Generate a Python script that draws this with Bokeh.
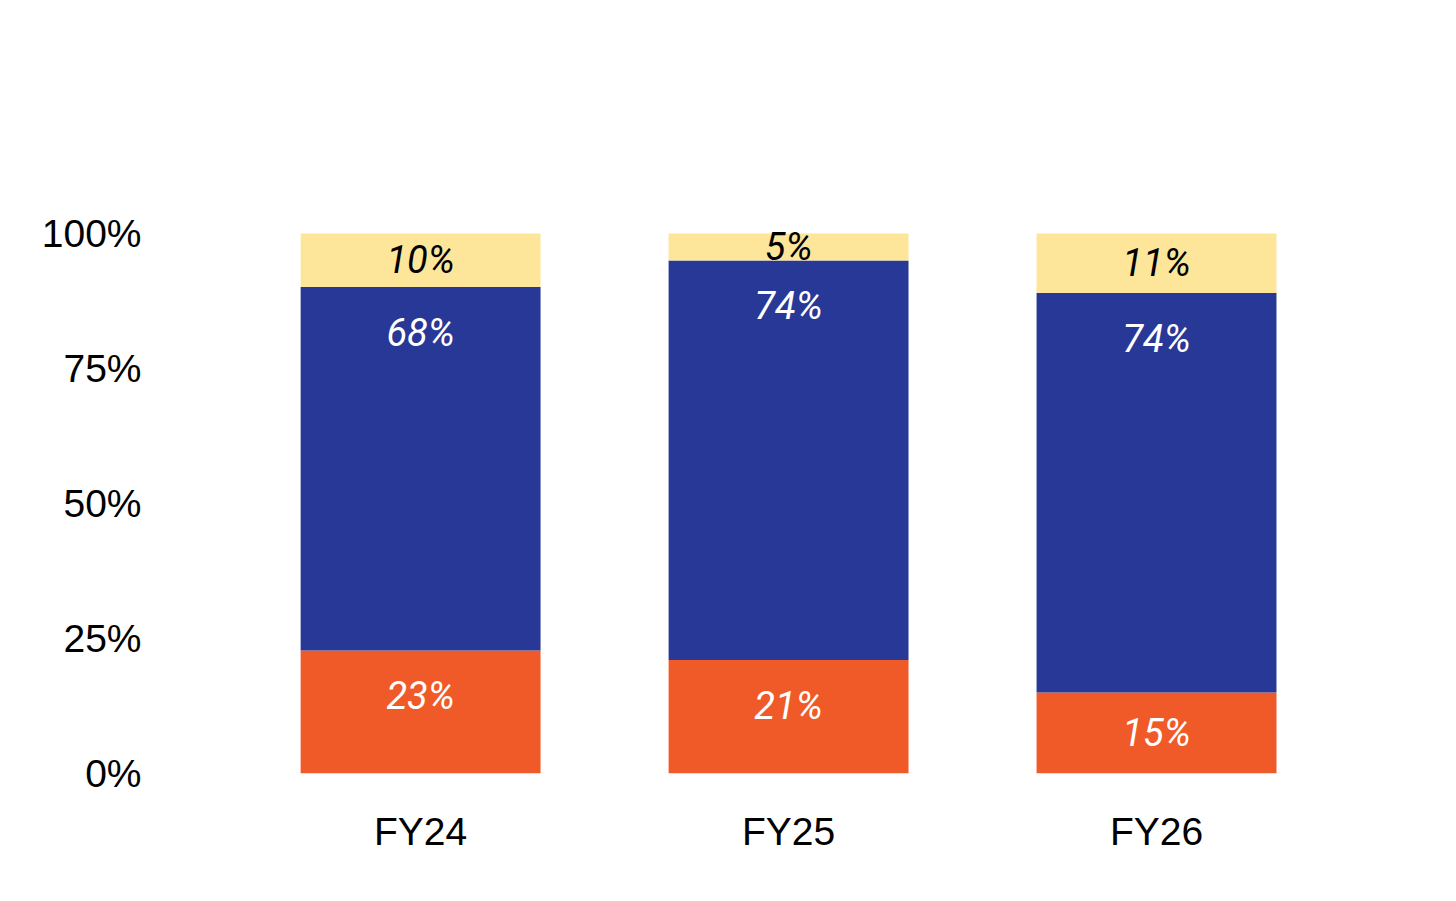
from bokeh.plotting import figure
from bokeh.models import Range1d, FixedTicker, Label, Legend, LegendItem, ColumnDataSource
from bokeh.core.properties import value
from bokeh.embed import file_html
from bokeh.resources import INLINE

years = ["FY24", "FY25", "FY26"]
devices = [23, 21, 15]
test_kits = [68, 74, 74]
others = [10, 5, 11]
series = ["Devices", "Test kits", "Others"]
colors = ["#F05A28", "#283896", "#FDE59A"]
label_colors = ["white", "white", "black"]
y_ticks = [0, 25, 50, 75, 100]

xs = [0.5, 1.5, 2.5]
raw = [devices, test_kits, others]
totals = [sum(v[i] for v in raw) for i in range(3)]
norm = [[v[i] * 100.0 / totals[i] for i in range(3)] for v in raw]

p = figure(width=1440, height=885, output_backend="svg", toolbar_location=None,
           x_range=Range1d(-0.215, 3.25), y_range=Range1d(0, 102.04),
           min_border_left=157, min_border_right=8, min_border_top=222, min_border_bottom=112)
p.outline_line_color = None
p.grid.visible = False

bottoms = [0.0, 0.0, 0.0]
renderers = []
for k, s in enumerate(series):
    tops = [bottoms[i] + norm[k][i] for i in range(3)]
    src = ColumnDataSource(dict(x=xs, bottom=list(bottoms), top=tops))
    r = p.vbar(x="x", width=0.652, bottom="bottom", top="top", source=src,
               fill_color=colors[k], line_color=None)
    renderers.append(r)
    ly = [max((bottoms[i] + tops[i]) / 2, tops[i] - 8.5) for i in range(3)]
    txt = [f"{raw[k][i]}%" for i in range(3)]
    p.text(x=xs, y=ly, text=txt, text_align="center", text_baseline="middle",
           text_font=value("Roboto"), text_font_style="italic", text_font_size="38px",
           text_color=label_colors[k])
    bottoms = tops

p.xaxis.ticker = FixedTicker(ticks=xs)
p.xaxis.major_label_overrides = {x: y for x, y in zip(xs, years)}
p.yaxis.ticker = FixedTicker(ticks=y_ticks)
p.yaxis.major_label_overrides = {t: f"{t}%" for t in y_ticks}
for ax in (p.xaxis, p.yaxis):
    ax.axis_line_color = None
    ax.major_tick_line_color = None
    ax.minor_tick_line_color = None
    ax.major_label_text_font = "Liberation Sans"
    ax.major_label_text_font_size = "39px"
    ax.major_label_text_color = "black"
p.xaxis.major_label_standoff = 30
p.yaxis.major_label_standoff = 10

legend = Legend(items=[LegendItem(label=series[k], renderers=[renderers[k]]) for k in (2, 1, 0)],
                orientation="horizontal", location=(226, 606),
                label_text_font="Liberation Sans", label_text_font_size="39px",
                label_text_color="black",
                glyph_width=30, glyph_height=30, spacing=40, label_standoff=21,
                border_line_color=None, background_fill_alpha=0, margin=0, padding=0)
p.add_layout(legend, "center")

p.add_layout(Label(x=-0.538, y=127.6, text="Revenue from Operations by segment (%)",
                   text_font="Liberation Sans", text_font_style="bold", text_font_size="44px",
                   text_color="black", text_baseline="alphabetic"))

open("out.html", "w").write(file_html(p, INLINE))
